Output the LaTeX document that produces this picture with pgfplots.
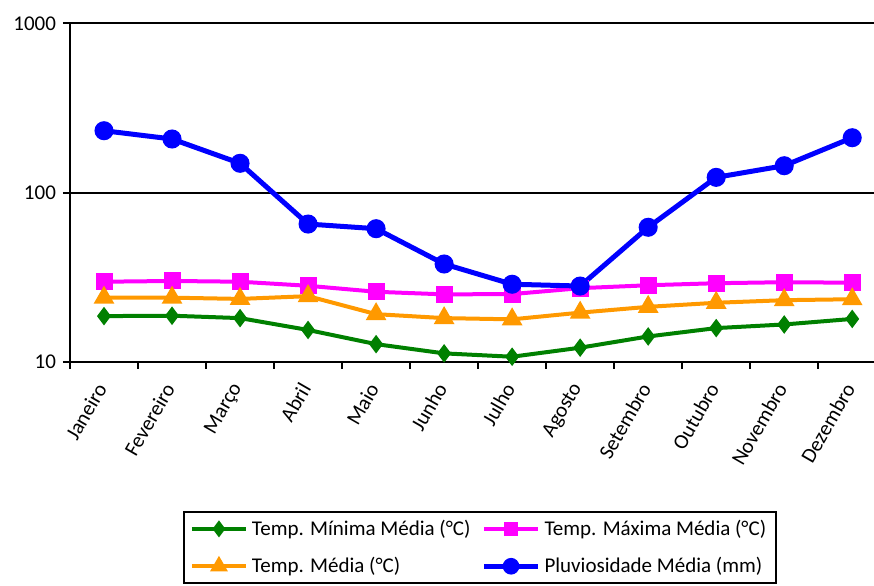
\documentclass[border=0pt]{standalone}
\usepackage{pgfplots}
\pgfplotsset{compat=1.18}
\usepackage{fontspec}
\setmainfont{Carlito}

\definecolor{cmin}{RGB}{0,128,0}
\definecolor{cmax}{RGB}{255,0,255}
\definecolor{cmed}{RGB}{255,153,0}
\definecolor{cpluv}{RGB}{0,0,255}
\definecolor{topgrid}{RGB}{128,128,128}

% Monthly climate normals (index 0 = Janeiro ... 11 = Dezembro)
\pgfplotstableread{
m  tmin  tmax  tmed  pluv
0  18.6  29.7  23.9  231.8
1  18.7  30.0  23.9  207.1
2  18.1  29.7  23.5  148.8
3  15.4  28.1  24.4  65.1
4  12.7  25.9  19.1  61.1
5  11.2  25.0  18.1  37.8
6  10.7  25.1  17.8  28.7
7  12.1  27.2  19.5  28.0
8  14.1  28.3  21.1  62.3
9  15.8  29.1  22.3  122.9
10 16.6  29.5  23.1  144.0
11 17.9  29.3  23.4  210.8
}\clima

\begin{document}
\begin{tikzpicture}[font=\fontsize{10.5}{12.6}\selectfont]
\path[use as bounding box] (-35pt,-111.65pt) rectangle (402pt,180.85pt);
\begin{axis}[
  at={(0,0)}, anchor=south west,
  scale only axis, width=402pt, height=169.2pt,
  xmin=-0.5, xmax=11.32,
  ymode=log, ymin=10, ymax=1000,
  axis lines=left,
  axis line style={-, line width=1pt, black},
  tick align=outside,
  xtick={0,...,11},
  xticklabels={Janeiro,Fevereiro,Março,Abril,Maio,Junho,Julho,Agosto,Setembro,Outubro,Novembro,Dezembro},
  major x tick style={draw=none},
  minor xtick={-0.5,0.5,...,10.5},
  minor x tick style={black, line width=1pt},
  minor tick length=3.5pt,
  major tick length=3.5pt,
  yminorticks=false,
  ytick={10,100}, yticklabels={10,100},
  extra y ticks={1000}, extra y tick labels={1000},
  extra y tick style={grid style={topgrid, line width=1pt}},
  y tick style={black, line width=1pt},
  ymajorgrids,
  major grid style={black, line width=1pt},
  xticklabel style={rotate=60, anchor=east, xshift=1pt},
  xticklabel shift=6pt,
  legend columns=2,
  legend cell align=left,
  legend style={at={(0.1405,-0.4403)}, anchor=north west, draw=black, line width=1pt,
    row sep=5.5pt, /tikz/every even column/.append style={column sep=3.5pt}},
  legend image code/.code={\draw[mark repeat=2,mark phase=2,#1] plot coordinates {(0pt,0pt) (13.5pt,0pt) (27pt,0pt)};},
]
\addplot[cmin, line width=2pt, mark=diamond*, mark size=3pt, mark options={solid, fill=cmin}, forget plot] table[x=m, y=tmin] {\clima};
\addplot[cmax, line width=2pt, mark=square*, mark size=3.25pt, mark options={solid, fill=cmax}, forget plot] table[x=m, y=tmax] {\clima};
\addplot[cmed, line width=2pt, mark=triangle*, mark size=4pt, mark options={solid, fill=cmed}, forget plot] table[x=m, y=tmed] {\clima};
\addplot[cpluv, line width=2.5pt, mark=*, mark size=3.5pt, mark options={solid, fill=cpluv}, forget plot] table[x=m, y=pluv] {\clima};
% legend keys with slightly smaller markers
\addlegendimage{cmin, line width=2pt, mark=diamond*, mark size=2.6pt, mark options={solid, fill=cmin}}
\addlegendentry{Temp. Mínima Média (°C)}
\addlegendimage{cmax, line width=2pt, mark=square*, mark size=2.6pt, mark options={solid, fill=cmax}}
\addlegendentry{Temp. Máxima Média (°C)}
\addlegendimage{cmed, line width=2pt, mark=triangle*, mark size=3.2pt, mark options={solid, fill=cmed}}
\addlegendentry{Temp. Média (°C)}
\addlegendimage{cpluv, line width=2.5pt, mark=*, mark size=2.9pt, mark options={solid, fill=cpluv}}
\addlegendentry{Pluviosidade Média (mm)}
\end{axis}
\end{tikzpicture}
\end{document}
